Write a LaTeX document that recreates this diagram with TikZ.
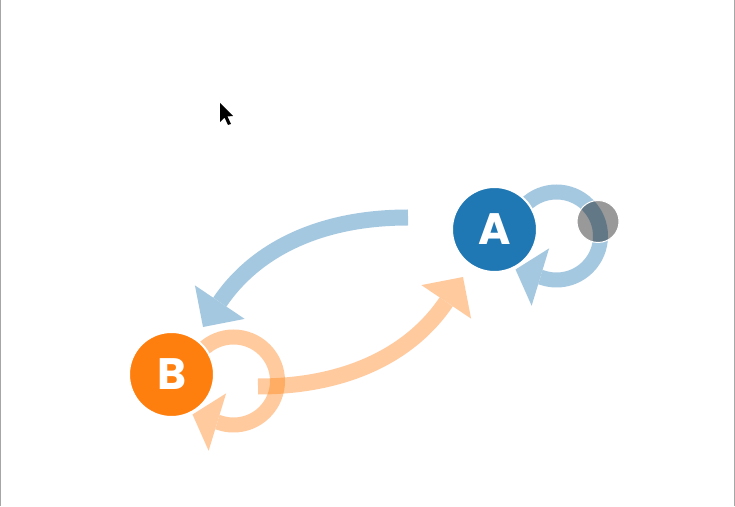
\documentclass[tikz,border=0pt]{standalone}
\usepackage{fontspec}
\setsansfont{Poppins}
\usetikzlibrary{arrows.meta, calc, backgrounds}
\definecolor{nodeblue}{HTML}{1F77B4}
\definecolor{nodeorange}{HTML}{FF7F0E}

\begin{document}
\begin{tikzpicture}[x=1pt, y=1pt,
  vertex/.style={circle, draw=white, line width=2pt, minimum size=85pt, inner sep=0pt, text=white, font=\sffamily\bfseries\fontsize{44}{44}\selectfont},
  link/.style={line width=16pt, -{Triangle[width=60pt, length=30pt, line width=0pt]}},
  selfloop/.style={line width=15pt, -{Triangle[width=60pt, length=26pt, line width=0pt]}},
  faded/.style={transparency group, opacity=0.4},
  ghostdot/.style={circle, fill=black, fill opacity=0.4, draw=white, line width=1pt, minimum size=42pt, inner sep=0pt}]
\useasboundingbox (0,0) rectangle (735,506);

\node[vertex, fill=nodeblue] (A) at (494.5,276.5) {A};
\node[vertex, fill=nodeorange] (B) at (171.5,131.5) {B};
\node[ghostdot] (ghost) at ($(A)+(103.5,8)$) {};

% links and loops go under the nodes
\begin{scope}[on background layer]
\fill[white] (0,0) rectangle (735,506);
\draw[gray!70, line width=1pt] (0.5,0) -- (0.5,506);
\draw[gray!70, line width=1pt] (734,0) -- (734,506);

\begin{scope}[faded]
\draw[link, nodeblue] ([shift={(-86.5,12)}]A.center) to[out=180, in=56] ([shift={(31.5,47.5)}]B.center);
\end{scope}
\begin{scope}[faded]
\draw[link, nodeorange] ([shift={(86.5,-12)}]B.center) to[out=0, in=236] ([shift={(-31.5,-47.5)}]A.center);
\end{scope}

\begin{scope}[faded]
\draw[selfloop, nodeblue] ($(A.center)+(62,-6.5)+(135:44)$) arc[start angle=135, end angle=-108, radius=44] -- ([shift={(21,-40)}]A.center);
\end{scope}
\begin{scope}[faded]
\draw[selfloop, nodeorange] ($(B.center)+(62,-6.5)+(135:44)$) arc[start angle=135, end angle=-108, radius=44] -- ([shift={(21,-40)}]B.center);
\end{scope}
\end{scope}

% mouse pointer
\fill[black] (220,403) -- ++(0,-19) -- ++(4.5,4.5) -- ++(3.5,-7.5) -- ++(3,1) -- ++(-3.5,7.5) -- ++(5.5,0.5) -- cycle;
\end{tikzpicture}
\end{document}
